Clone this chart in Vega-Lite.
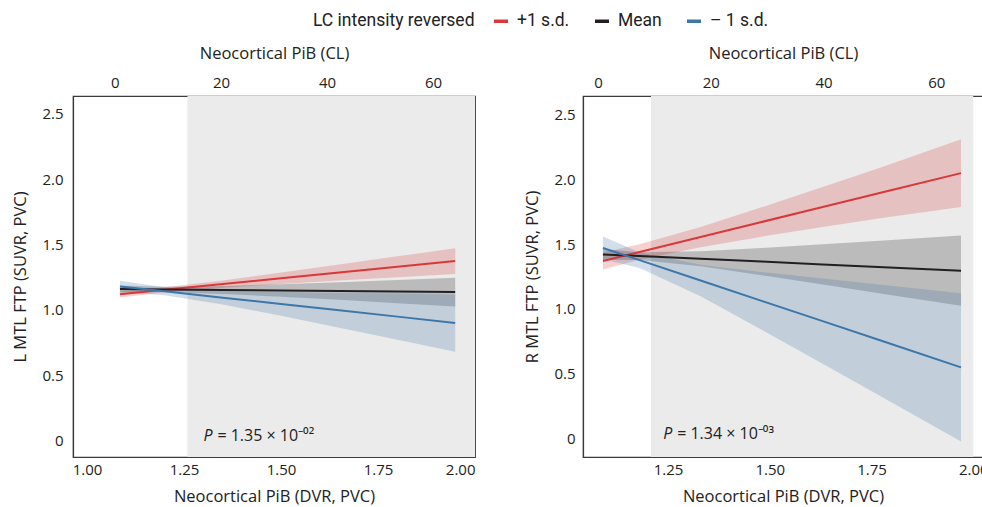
{
  "$schema": "https://vega.github.io/schema/vega-lite/v6.json",
  "background": "white",
  "padding": {"left": 12, "top": 12, "right": 0, "bottom": 0},
  "config": {
    "font": "Open Sans",
    "view": {"stroke": "#3a3a3a", "strokeWidth": 1.2},
    "axis": {"grid": false, "ticks": false, "domainColor": "#3a3a3a", "domainWidth": 1.2, "labelColor": "#222", "titleColor": "#222", "labelFontSize": 15, "titleFontSize": 16.5, "titleFontWeight": "normal", "labelFont": "Open Sans", "titleFont": "Open Sans"}
  },
  "datasets": {
    "L": [
      {"group": "+1 s.d.", "x": 1.085, "y": 1.12, "lo": 1.095, "hi": 1.145},
      {"group": "+1 s.d.", "x": 1.2, "y": 1.154, "lo": 1.134, "hi": 1.174},
      {"group": "+1 s.d.", "x": 1.35, "y": 1.198, "lo": 1.17, "hi": 1.226},
      {"group": "+1 s.d.", "x": 1.5, "y": 1.242, "lo": 1.198, "hi": 1.286},
      {"group": "+1 s.d.", "x": 1.65, "y": 1.286, "lo": 1.225, "hi": 1.347},
      {"group": "+1 s.d.", "x": 1.8, "y": 1.33, "lo": 1.25, "hi": 1.41},
      {"group": "+1 s.d.", "x": 1.949, "y": 1.374, "lo": 1.275, "hi": 1.473},
      {"group": "Mean", "x": 1.085, "y": 1.16, "lo": 1.133, "hi": 1.187},
      {"group": "Mean", "x": 1.2, "y": 1.157, "lo": 1.137, "hi": 1.177},
      {"group": "Mean", "x": 1.35, "y": 1.153, "lo": 1.122, "hi": 1.184},
      {"group": "Mean", "x": 1.5, "y": 1.149, "lo": 1.101, "hi": 1.197},
      {"group": "Mean", "x": 1.65, "y": 1.145, "lo": 1.078, "hi": 1.212},
      {"group": "Mean", "x": 1.8, "y": 1.141, "lo": 1.052, "hi": 1.23},
      {"group": "Mean", "x": 1.949, "y": 1.137, "lo": 1.027, "hi": 1.247},
      {"group": "– 1 s.d.", "x": 1.085, "y": 1.18, "lo": 1.136, "hi": 1.224},
      {"group": "– 1 s.d.", "x": 1.2, "y": 1.143, "lo": 1.113, "hi": 1.173},
      {"group": "– 1 s.d.", "x": 1.35, "y": 1.094, "lo": 1.042, "hi": 1.146},
      {"group": "– 1 s.d.", "x": 1.5, "y": 1.046, "lo": 0.955, "hi": 1.137},
      {"group": "– 1 s.d.", "x": 1.65, "y": 0.997, "lo": 0.864, "hi": 1.13},
      {"group": "– 1 s.d.", "x": 1.8, "y": 0.949, "lo": 0.772, "hi": 1.126},
      {"group": "– 1 s.d.", "x": 1.949, "y": 0.9, "lo": 0.681, "hi": 1.119}
    ],
    "R": [
      {"group": "+1 s.d.", "x": 1.09, "y": 1.37, "lo": 1.303, "hi": 1.437},
      {"group": "+1 s.d.", "x": 1.18, "y": 1.439, "lo": 1.379, "hi": 1.499},
      {"group": "+1 s.d.", "x": 1.33, "y": 1.554, "lo": 1.476, "hi": 1.632},
      {"group": "+1 s.d.", "x": 1.48, "y": 1.67, "lo": 1.557, "hi": 1.783},
      {"group": "+1 s.d.", "x": 1.63, "y": 1.785, "lo": 1.631, "hi": 1.939},
      {"group": "+1 s.d.", "x": 1.78, "y": 1.9, "lo": 1.702, "hi": 2.098},
      {"group": "+1 s.d.", "x": 1.97, "y": 2.046, "lo": 1.786, "hi": 2.306},
      {"group": "Mean", "x": 1.09, "y": 1.42, "lo": 1.378, "hi": 1.462},
      {"group": "Mean", "x": 1.18, "y": 1.407, "lo": 1.377, "hi": 1.437},
      {"group": "Mean", "x": 1.33, "y": 1.386, "lo": 1.328, "hi": 1.444},
      {"group": "Mean", "x": 1.48, "y": 1.365, "lo": 1.26, "hi": 1.47},
      {"group": "Mean", "x": 1.63, "y": 1.343, "lo": 1.188, "hi": 1.498},
      {"group": "Mean", "x": 1.78, "y": 1.322, "lo": 1.116, "hi": 1.528},
      {"group": "Mean", "x": 1.97, "y": 1.295, "lo": 1.025, "hi": 1.565},
      {"group": "– 1 s.d.", "x": 1.09, "y": 1.47, "lo": 1.382, "hi": 1.558},
      {"group": "– 1 s.d.", "x": 1.18, "y": 1.376, "lo": 1.316, "hi": 1.436},
      {"group": "– 1 s.d.", "x": 1.33, "y": 1.219, "lo": 1.098, "hi": 1.34},
      {"group": "– 1 s.d.", "x": 1.48, "y": 1.062, "lo": 0.84, "hi": 1.284},
      {"group": "– 1 s.d.", "x": 1.63, "y": 0.906, "lo": 0.578, "hi": 1.234},
      {"group": "– 1 s.d.", "x": 1.78, "y": 0.749, "lo": 0.314, "hi": 1.184},
      {"group": "– 1 s.d.", "x": 1.97, "y": 0.55, "lo": -0.021, "hi": 1.121}
    ],
    "Lshade": [{"x1": 1.259, "x2": 2.0}],
    "Rshade": [{"x1": 1.208, "x2": 2.0}],
    "Ltop": [{"cl": -7.9}, {"cl": 67.9}],
    "Rtop": [{"cl": -2.66}, {"cl": 68.3}],
    "Lp": [{"x": 1.3, "y": 0.0, "rest": "= 1.35 × 10⁻⁰²"}],
    "Rp": [{"x": 1.238, "y": 0.0, "rest": "= 1.34 × 10⁻⁰³"}]
  },
  "hconcat": [
    {
      "width": 402,
      "height": 361,
      "layer": [
        {
          "layer": [
            {
              "data": {"name": "Lshade"},
              "mark": {"type": "rect", "color": "#ebebeb"},
              "encoding": {
                "x": {"field": "x1", "type": "quantitative", "scale": {"domain": [0.964, 2.0], "nice": false, "zero": false}, "title": "Neocortical PiB (DVR, PVC)", "axis": {"values": [1, 1.25, 1.5, 1.75, 2], "format": ".2f", "labelPadding": 5, "titlePadding": 11}},
                "x2": {"field": "x2"}
              }
            },
            {
              "data": {"name": "L"},
              "transform": [{"filter": "datum.group == '+1 s.d.'"}],
              "mark": {"type": "area", "opacity": 0.23, "color": "#d8383a"},
              "encoding": {
                "x": {"field": "x", "type": "quantitative", "title": "Neocortical PiB (DVR, PVC)"},
                "y": {"field": "lo", "type": "quantitative", "scale": {"domain": [-0.125, 2.637], "nice": false, "zero": false}, "title": "L MTL FTP (SUVR, PVC)", "axis": {"values": [0, 0.5, 1, 1.5, 2, 2.5], "labelExpr": "datum.value == 0 ? '0' : format(datum.value, '.1f')", "labelPadding": 10, "titlePadding": 13}},
                "y2": {"field": "hi"}
              }
            },
            {
              "data": {"name": "L"},
              "transform": [{"filter": "datum.group == 'Mean'"}],
              "mark": {"type": "area", "opacity": 0.23, "color": "#231f20"},
              "encoding": {
                "x": {"field": "x", "type": "quantitative", "title": "Neocortical PiB (DVR, PVC)"},
                "y": {"field": "lo", "type": "quantitative", "title": "L MTL FTP (SUVR, PVC)"},
                "y2": {"field": "hi"}
              }
            },
            {
              "data": {"name": "L"},
              "transform": [{"filter": "datum.group == '– 1 s.d.'"}],
              "mark": {"type": "area", "opacity": 0.23, "color": "#3d76a8"},
              "encoding": {
                "x": {"field": "x", "type": "quantitative", "title": "Neocortical PiB (DVR, PVC)"},
                "y": {"field": "lo", "type": "quantitative", "title": "L MTL FTP (SUVR, PVC)"},
                "y2": {"field": "hi"}
              }
            },
            {
              "data": {"name": "L"},
              "mark": {"type": "line", "strokeWidth": 2},
              "encoding": {
                "x": {"field": "x", "type": "quantitative", "title": "Neocortical PiB (DVR, PVC)"},
                "y": {"field": "y", "type": "quantitative", "title": "L MTL FTP (SUVR, PVC)"},
                "color": {"field": "group", "type": "nominal", "scale": {"domain": ["+1 s.d.", "Mean", "– 1 s.d."], "range": ["#d8383a", "#231f20", "#3d76a8"]}, "title": "LC intensity reversed",
                  "legend": {"orient": "none", "legendX": 240, "legendY": -84, "direction": "horizontal", "titleOrient": "left", "titleFontSize": 17.5, "titleFontWeight": "normal", "titleFont": "Roboto", "labelFont": "Roboto", "labelFontSize": 17.5, "titleColor": "#222", "labelColor": "#222", "symbolType": "stroke", "symbolSize": 196, "symbolStrokeWidth": 3.5, "columnPadding": 18, "titlePadding": 17, "labelOffset": 7}}
              }
            },
            {
              "data": {"name": "Lp"},
              "mark": {"type": "text", "text": "P", "fontStyle": "italic", "fontSize": 16, "align": "left", "baseline": "alphabetic", "color": "#222"},
              "encoding": {
                "x": {"field": "x", "type": "quantitative", "title": "Neocortical PiB (DVR, PVC)"},
                "y": {"field": "y", "type": "quantitative", "title": "L MTL FTP (SUVR, PVC)"}
              }
            },
            {
              "data": {"name": "Lp"},
              "mark": {"type": "text", "fontSize": 16, "align": "left", "baseline": "alphabetic", "dx": 14, "color": "#222"},
              "encoding": {
                "x": {"field": "x", "type": "quantitative", "title": "Neocortical PiB (DVR, PVC)"},
                "y": {"field": "y", "type": "quantitative", "title": "L MTL FTP (SUVR, PVC)"},
                "text": {"field": "rest"}
              }
            }
          ]
        },
        {
          "data": {"name": "Ltop"},
          "mark": {"type": "point", "opacity": 0},
          "encoding": {
            "x": {"field": "cl", "type": "quantitative", "scale": {"domain": [-7.9, 67.9], "nice": false, "zero": false}, "title": "Neocortical PiB (CL)", "axis": {"orient": "top", "values": [0, 20, 40, 60], "labelPadding": 6, "titlePadding": 14}}
          }
        }
      ],
      "resolve": {"scale": {"x": "independent"}, "axis": {"x": "independent"}}
    },
    {
      "width": 400,
      "height": 361,
      "layer": [
        {
          "layer": [
            {
              "data": {"name": "Rshade"},
              "mark": {"type": "rect", "color": "#ebebeb"},
              "encoding": {
                "x": {"field": "x1", "type": "quantitative", "scale": {"domain": [1.041, 2.024], "nice": false, "zero": false}, "title": "Neocortical PiB (DVR, PVC)", "axis": {"values": [1.25, 1.5, 1.75, 2], "format": ".2f", "labelPadding": 5, "titlePadding": 11}},
                "x2": {"field": "x2"}
              }
            },
            {
              "data": {"name": "R"},
              "transform": [{"filter": "datum.group == '+1 s.d.'"}],
              "mark": {"type": "area", "opacity": 0.23, "color": "#d8383a"},
              "encoding": {
                "x": {"field": "x", "type": "quantitative", "title": "Neocortical PiB (DVR, PVC)"},
                "y": {"field": "lo", "type": "quantitative", "scale": {"domain": [-0.14, 2.64], "nice": false, "zero": false}, "title": "R MTL FTP (SUVR, PVC)", "axis": {"values": [0, 0.5, 1, 1.5, 2, 2.5], "labelExpr": "datum.value == 0 ? '0' : format(datum.value, '.1f')", "labelPadding": 8, "titlePadding": 13}},
                "y2": {"field": "hi"}
              }
            },
            {
              "data": {"name": "R"},
              "transform": [{"filter": "datum.group == 'Mean'"}],
              "mark": {"type": "area", "opacity": 0.23, "color": "#231f20"},
              "encoding": {
                "x": {"field": "x", "type": "quantitative", "title": "Neocortical PiB (DVR, PVC)"},
                "y": {"field": "lo", "type": "quantitative", "title": "R MTL FTP (SUVR, PVC)"},
                "y2": {"field": "hi"}
              }
            },
            {
              "data": {"name": "R"},
              "transform": [{"filter": "datum.group == '– 1 s.d.'"}],
              "mark": {"type": "area", "opacity": 0.23, "color": "#3d76a8"},
              "encoding": {
                "x": {"field": "x", "type": "quantitative", "title": "Neocortical PiB (DVR, PVC)"},
                "y": {"field": "lo", "type": "quantitative", "title": "R MTL FTP (SUVR, PVC)"},
                "y2": {"field": "hi"}
              }
            },
            {
              "data": {"name": "R"},
              "mark": {"type": "line", "strokeWidth": 2},
              "encoding": {
                "x": {"field": "x", "type": "quantitative", "title": "Neocortical PiB (DVR, PVC)"},
                "y": {"field": "y", "type": "quantitative", "title": "R MTL FTP (SUVR, PVC)"},
                "color": {"field": "group", "type": "nominal", "scale": {"domain": ["+1 s.d.", "Mean", "– 1 s.d."], "range": ["#d8383a", "#231f20", "#3d76a8"]}, "title": "LC intensity reversed",
                  "legend": {"orient": "none", "legendX": 240, "legendY": -84, "direction": "horizontal", "titleOrient": "left", "titleFontSize": 17.5, "titleFontWeight": "normal", "titleFont": "Roboto", "labelFont": "Roboto", "labelFontSize": 17.5, "titleColor": "#222", "labelColor": "#222", "symbolType": "stroke", "symbolSize": 196, "symbolStrokeWidth": 3.5, "columnPadding": 18, "titlePadding": 17, "labelOffset": 7}}
              }
            },
            {
              "data": {"name": "Rp"},
              "mark": {"type": "text", "text": "P", "fontStyle": "italic", "fontSize": 16, "align": "left", "baseline": "alphabetic", "color": "#222"},
              "encoding": {
                "x": {"field": "x", "type": "quantitative", "title": "Neocortical PiB (DVR, PVC)"},
                "y": {"field": "y", "type": "quantitative", "title": "R MTL FTP (SUVR, PVC)"}
              }
            },
            {
              "data": {"name": "Rp"},
              "mark": {"type": "text", "fontSize": 16, "align": "left", "baseline": "alphabetic", "dx": 14, "color": "#222"},
              "encoding": {
                "x": {"field": "x", "type": "quantitative", "title": "Neocortical PiB (DVR, PVC)"},
                "y": {"field": "y", "type": "quantitative", "title": "R MTL FTP (SUVR, PVC)"},
                "text": {"field": "rest"}
              }
            }
          ]
        },
        {
          "data": {"name": "Rtop"},
          "mark": {"type": "point", "opacity": 0},
          "encoding": {
            "x": {"field": "cl", "type": "quantitative", "scale": {"domain": [-2.66, 68.3], "nice": false, "zero": false}, "title": "Neocortical PiB (CL)", "axis": {"orient": "top", "values": [0, 20, 40, 60], "labelPadding": 6, "titlePadding": 14}}
          }
        }
      ],
      "resolve": {"scale": {"x": "independent"}, "axis": {"x": "independent"}}
    }
  ],
  "spacing": 45,
  "resolve": {"scale": {"color": "shared"}}
}
